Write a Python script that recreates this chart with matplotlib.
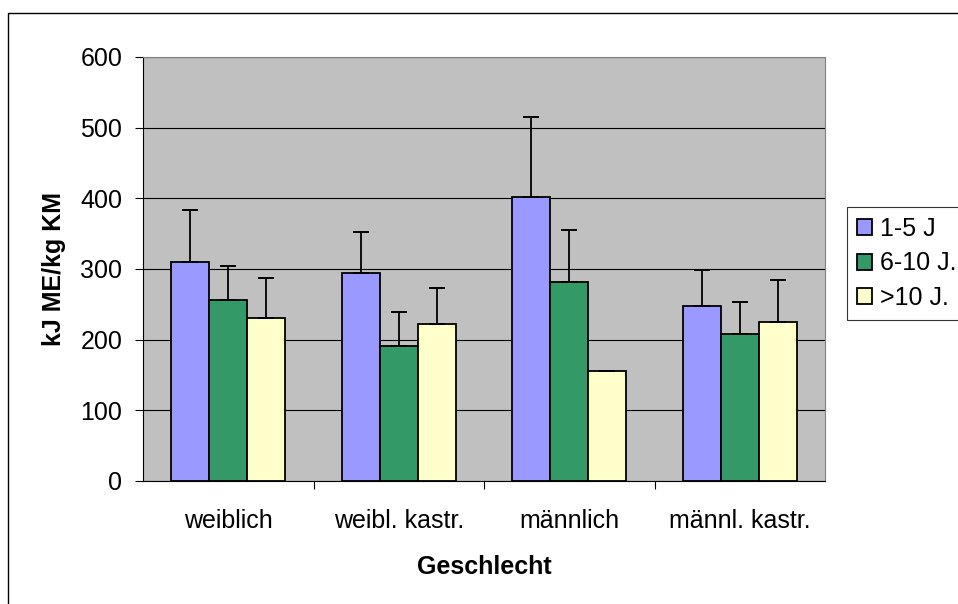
import matplotlib
matplotlib.use('Agg')
import matplotlib.pyplot as plt
import numpy as np
from matplotlib.patches import Rectangle

plt.rcParams['font.family'] = ['Liberation Sans', 'DejaVu Sans']

categories = ['weiblich', 'weibl. kastr.', 'männlich', 'männl. kastr.']
series = ['1-5 J', '6-10 J.', '>10 J.']
vals_1_5 = [310, 295, 402, 248]
vals_6_10 = [256, 191, 282, 208]
vals_10p = [230, 222, 155, 225]
err_1_5 = [73, 57, 113, 51]
err_6_10 = [48, 48, 73, 45]
err_10p = [57, 51, 0, 59]
colors = ['#9999FF', '#339966', '#FFFFCC']

W, H = 958, 604
fig = plt.figure(figsize=(W / 100, H / 100), dpi=100)
ax = fig.add_axes([143 / W, 1 - 481 / H, (825 - 143) / W, (481 - 57) / H])
ax.set_facecolor('#C0C0C0')

# outer chart frame (cut off on right/bottom)
fig.patches.append(Rectangle((8 / W, -0.1), 1.2, 1 - 13 / H + 0.1, transform=fig.transFigure,
                             fill=False, ec='black', lw=1.0, zorder=0))

x = np.arange(len(categories))
bw = 0.222
data = [(vals_1_5, err_1_5), (vals_6_10, err_6_10), (vals_10p, err_10p)]
for i, ((v, e), c, lab) in enumerate(zip(data, colors, series)):
    pos = x + (i - 1) * bw
    ax.bar(pos, v, width=bw, color=c, edgecolor='black', lw=1.3, label=lab, zorder=3)
    ax.errorbar(pos, v, yerr=[np.zeros(len(e)), e], fmt='none', ecolor='black',
                elinewidth=1.3, capsize=5.5, capthick=1.4, zorder=4)

ax.set_xlim(-0.5, 3.5)
ax.set_ylim(0, 600)
ax.set_yticks(range(0, 601, 100))
ax.yaxis.grid(True, color='black', lw=0.8, zorder=1)
ax.set_axisbelow(True)
ax.tick_params(axis='y', direction='out', length=6, width=0.8, labelsize=18, pad=9)
ax.set_xticks(x)
ax.set_xticklabels(categories)
ax.tick_params(axis='x', which='major', length=0, labelsize=18, pad=20)
ax.set_xticks([0.5, 1.5, 2.5], minor=True)
ax.tick_params(axis='x', which='minor', direction='out', length=6, width=0.8)
for s in ('top', 'right'):
    ax.spines[s].set_color('#808080')
for s in ('left', 'bottom'):
    ax.spines[s].set_color('black')
    ax.spines[s].set_linewidth(0.8)

ax.set_ylabel('kJ ME/kg KM', fontsize=18, fontweight='bold', labelpad=10)
ax.set_xlabel('Geschlecht', fontsize=18, fontweight='bold', labelpad=16)

leg = fig.legend(loc='upper left', bbox_to_anchor=(847 / W, 1 - 207 / H), fontsize=18,
                 frameon=True, fancybox=False, edgecolor='black', handlelength=0.6,
                 handleheight=0.6, handletextpad=0.3, labelspacing=0.42, borderpad=0.4,
                 borderaxespad=0)
leg.get_frame().set_linewidth(0.8)

fig.savefig('out.png', dpi=100)
